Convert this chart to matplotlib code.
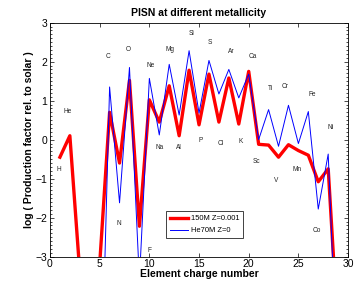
import numpy as np
import matplotlib
matplotlib.use("Agg")
import matplotlib.pyplot as plt
from matplotlib.ticker import AutoMinorLocator

plt.rcParams["font.family"] = ["Liberation Sans", "DejaVu Sans"]

# ── Data: log production factor relative to solar, Z = 1..29 ─────────
charge = np.arange(1, 30)

red_150M = [-0.45, 0.10, -3.4, -8.0, -3.2, 0.70, -0.60, 1.52, -2.22, 1.02,
            0.45, 1.38, 0.10, 1.78, 0.38, 1.68, 0.45, 1.58, 0.40, 1.75,
            -0.12, -0.14, -0.45, -0.13, -0.28, -0.40, -1.08, -0.75, -5.0]

blue_he70 = [np.nan, -1.1, np.nan, np.nan, -8.0, 1.35, -1.62, 1.85, -3.6, 1.57,
             0.12, 1.93, 0.63, 2.28, 0.68, 2.03, 1.17, 1.80, 1.07, 1.68,
             0.00, 0.77, -0.17, 0.88, -0.10, 0.72, -1.78, -0.37, -6.5]

elements = ["H", "He", "C", "N", "O", "F", "Ne", "Na", "Mg", "Al", "Si", "P",
            "S", "Cl", "Ar", "K", "Ca", "Sc", "Ti", "V", "Cr", "Mn", "Fe",
            "Ni", "Co"]
label_x = [0.84, 1.75, 5.8, 6.95, 7.9, 10.0, 10.14, 11.08, 12.08, 13.0, 14.2,
           15.2, 16.1, 17.2, 18.2, 19.2, 20.4, 20.8, 22.15, 22.8, 23.67, 24.84,
           26.35, 28.2, 26.9]
label_y = [-0.77, 0.73, 2.12, -2.15, 2.32, -2.84, 1.90, -0.21, 2.32, -0.21,
           2.71, -0.02, 2.48, -0.10, 2.25, -0.04, 2.14, -0.57, 1.30, -1.05,
           1.37, -0.77, 1.15, 0.30, -2.32]

series_names = ["150M Z=0.001", "He70M Z=0"]

fig = plt.figure(figsize=(3.57, 2.90), dpi=100)
ax = fig.add_axes([0.140, 0.115, 0.835, 0.807])

ax.plot(charge, red_150M, color="#ff0000", linewidth=2.4, label=series_names[0])
ax.plot(charge, blue_he70, color="#0000ff", linewidth=0.7, label=series_names[1])

for name, x, y in zip(elements, label_x, label_y):
    ax.text(x, y, name, fontsize=4.7, ha="center", va="center", color="#222222")

ax.set_xlim(0, 30)
ax.set_ylim(-3, 3)
ax.set_xticks(np.arange(0, 31, 5))
ax.set_yticks(np.arange(-3, 4, 1))
ax.yaxis.set_minor_locator(AutoMinorLocator(10))
ax.tick_params(which="both", direction="in", top=True, right=True,
               labelsize=7.5, width=0.5, pad=2)
ax.tick_params(which="major", length=3)
ax.tick_params(which="minor", length=1.5)
for s in ax.spines.values():
    s.set_linewidth(0.6)

ax.set_title("PISN at different metallicity", fontsize=7.5, fontweight="bold", pad=5)
ax.set_xlabel("Element charge number", fontsize=7.5, fontweight="bold", labelpad=0)
ax.set_ylabel("log ( Production factor rel. to solar )", fontsize=7.5,
              fontweight="bold", labelpad=1)

leg = ax.legend(loc="lower left", bbox_to_anchor=(0.39, 0.08), borderaxespad=0,
                fontsize=5.4, fancybox=False, framealpha=1, edgecolor="#222222",
                handlelength=2.4, handletextpad=0.4, borderpad=0.5,
                labelspacing=0.6)
leg.get_frame().set_linewidth(0.6)

fig.savefig("out.png", dpi=100)
